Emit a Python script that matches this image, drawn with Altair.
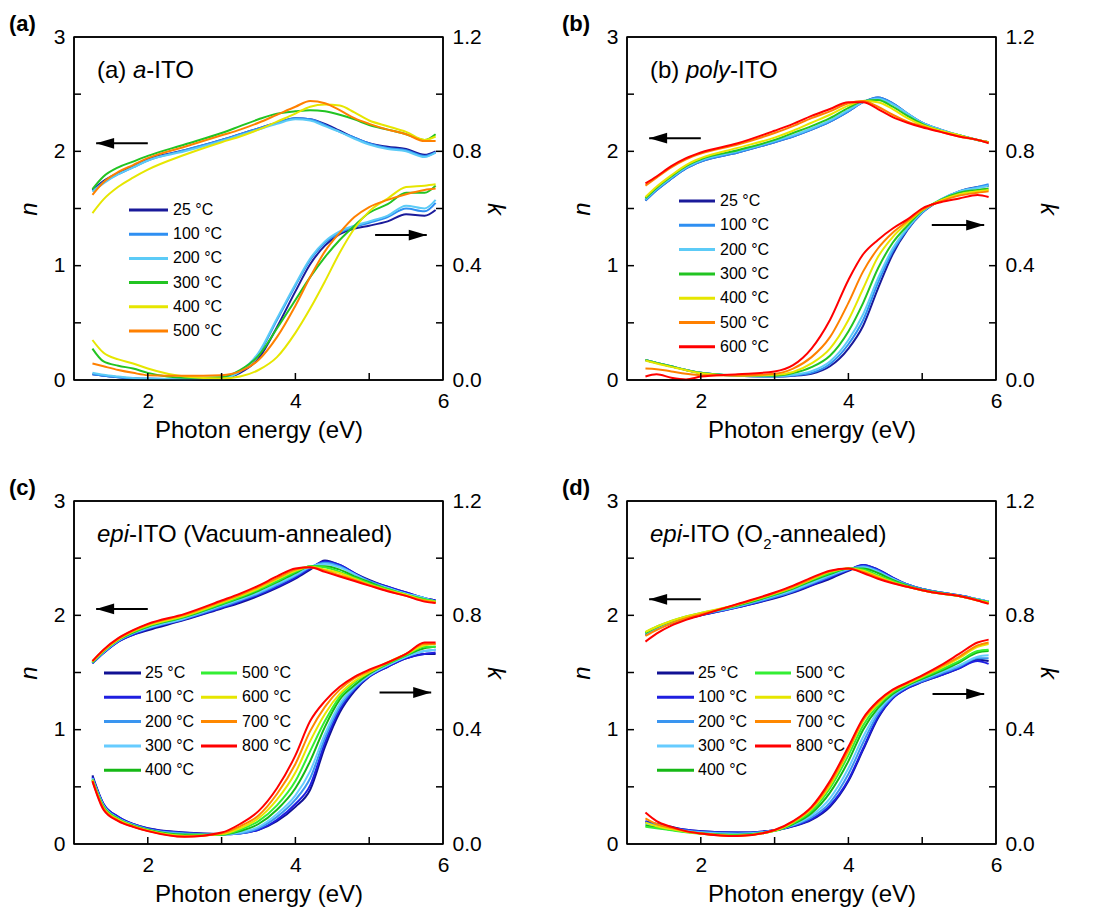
import altair as alt
import pandas as pd

FONT = "Liberation Sans"

# ---------------- data ----------------
E = [1.25, 1.4, 1.6, 1.8, 2.0, 2.5, 3.0, 3.25, 3.5, 3.75, 4.0, 4.2, 4.4, 4.6, 4.8, 5.0, 5.25, 5.5, 5.75, 5.9]

# (a) a-ITO
TEMPS_A = [25, 100, 200, 300, 400, 500]
COLORS_A = ["#1a1a9a", "#2e8ff2", "#5ccbf7", "#22c422", "#e6e600", "#ff8000"]
N_A = {
    25:  [1.66, 1.74, 1.81, 1.87, 1.93, 2.01, 2.10, 2.15, 2.20, 2.25, 2.29, 2.28, 2.24, 2.18, 2.12, 2.07, 2.04, 2.02, 1.97, 2.00],
    100: [1.65, 1.73, 1.80, 1.86, 1.92, 2.01, 2.10, 2.15, 2.20, 2.25, 2.29, 2.28, 2.23, 2.17, 2.12, 2.07, 2.03, 2.01, 1.96, 1.99],
    200: [1.65, 1.72, 1.80, 1.86, 1.92, 2.00, 2.09, 2.14, 2.19, 2.24, 2.28, 2.27, 2.22, 2.17, 2.11, 2.06, 2.02, 2.00, 1.95, 1.99],
    300: [1.67, 1.78, 1.86, 1.91, 1.96, 2.06, 2.16, 2.22, 2.28, 2.33, 2.35, 2.36, 2.35, 2.32, 2.28, 2.23, 2.19, 2.15, 2.10, 2.15],
    400: [1.46, 1.58, 1.69, 1.77, 1.84, 1.97, 2.08, 2.13, 2.19, 2.26, 2.33, 2.39, 2.41, 2.40, 2.34, 2.27, 2.22, 2.17, 2.10, 2.13],
    500: [1.62, 1.73, 1.82, 1.88, 1.94, 2.04, 2.14, 2.19, 2.25, 2.32, 2.39, 2.44, 2.42, 2.36, 2.29, 2.24, 2.19, 2.15, 2.09, 2.09],
}
K_A = {
    25:  [0.020, 0.015, 0.010, 0.006, 0.004, 0.003, 0.005, 0.025, 0.075, 0.185, 0.310, 0.405, 0.470, 0.510, 0.530, 0.540, 0.555, 0.580, 0.575, 0.595],
    100: [0.020, 0.015, 0.010, 0.006, 0.004, 0.003, 0.005, 0.030, 0.090, 0.210, 0.330, 0.420, 0.480, 0.515, 0.535, 0.550, 0.570, 0.600, 0.590, 0.620],
    200: [0.025, 0.018, 0.012, 0.007, 0.005, 0.003, 0.005, 0.030, 0.095, 0.215, 0.335, 0.425, 0.485, 0.520, 0.540, 0.555, 0.575, 0.610, 0.600, 0.630],
    300: [0.110, 0.065, 0.050, 0.040, 0.025, 0.008, 0.010, 0.035, 0.085, 0.180, 0.280, 0.360, 0.430, 0.490, 0.540, 0.585, 0.615, 0.655, 0.655, 0.680],
    400: [0.140, 0.095, 0.072, 0.058, 0.040, 0.012, 0.005, 0.012, 0.035, 0.080, 0.165, 0.250, 0.345, 0.445, 0.530, 0.590, 0.635, 0.675, 0.680, 0.685],
    500: [0.058, 0.048, 0.035, 0.025, 0.017, 0.015, 0.017, 0.030, 0.070, 0.150, 0.260, 0.360, 0.450, 0.515, 0.570, 0.605, 0.630, 0.650, 0.665, 0.670],
}

# (b) poly-ITO
TEMPS_B = [25, 100, 200, 300, 400, 500, 600]
COLORS_B = ["#1a1a9a", "#2e8ff2", "#5ccbf7", "#22c422", "#e6e600", "#ff8000", "#ff0000"]
N_B = {
    25:  [1.57, 1.66, 1.76, 1.85, 1.91, 1.99, 2.08, 2.13, 2.19, 2.26, 2.35, 2.43, 2.47, 2.42, 2.33, 2.25, 2.19, 2.14, 2.10, 2.08],
    100: [1.57, 1.66, 1.76, 1.85, 1.91, 1.99, 2.08, 2.13, 2.19, 2.26, 2.35, 2.43, 2.47, 2.42, 2.33, 2.25, 2.19, 2.14, 2.10, 2.08],
    200: [1.58, 1.67, 1.77, 1.86, 1.92, 2.00, 2.09, 2.14, 2.20, 2.27, 2.36, 2.43, 2.46, 2.41, 2.33, 2.25, 2.19, 2.14, 2.10, 2.08],
    300: [1.59, 1.68, 1.78, 1.87, 1.93, 2.01, 2.10, 2.16, 2.22, 2.29, 2.38, 2.44, 2.45, 2.39, 2.31, 2.24, 2.18, 2.14, 2.10, 2.08],
    400: [1.60, 1.69, 1.79, 1.88, 1.94, 2.03, 2.12, 2.18, 2.25, 2.32, 2.40, 2.44, 2.43, 2.37, 2.29, 2.23, 2.18, 2.14, 2.10, 2.08],
    500: [1.70, 1.77, 1.86, 1.93, 1.98, 2.06, 2.16, 2.22, 2.29, 2.35, 2.42, 2.44, 2.39, 2.32, 2.26, 2.22, 2.17, 2.13, 2.10, 2.08],
    600: [1.72, 1.78, 1.87, 1.94, 1.99, 2.07, 2.18, 2.24, 2.31, 2.37, 2.43, 2.43, 2.37, 2.30, 2.25, 2.21, 2.17, 2.13, 2.10, 2.07],
}
K_B = {
    25:  [0.070, 0.060, 0.048, 0.035, 0.025, 0.015, 0.012, 0.015, 0.022, 0.048, 0.110, 0.190, 0.320, 0.440, 0.525, 0.585, 0.630, 0.660, 0.675, 0.680],
    100: [0.070, 0.060, 0.048, 0.035, 0.025, 0.015, 0.012, 0.016, 0.025, 0.056, 0.125, 0.210, 0.340, 0.450, 0.528, 0.586, 0.630, 0.660, 0.675, 0.685],
    200: [0.070, 0.060, 0.048, 0.035, 0.025, 0.015, 0.013, 0.018, 0.031, 0.065, 0.140, 0.230, 0.355, 0.460, 0.532, 0.588, 0.632, 0.660, 0.672, 0.680],
    300: [0.070, 0.060, 0.048, 0.035, 0.025, 0.016, 0.015, 0.024, 0.045, 0.085, 0.170, 0.270, 0.390, 0.480, 0.540, 0.592, 0.630, 0.655, 0.665, 0.670],
    400: [0.068, 0.058, 0.046, 0.034, 0.024, 0.016, 0.018, 0.028, 0.058, 0.110, 0.210, 0.320, 0.430, 0.500, 0.550, 0.594, 0.628, 0.650, 0.660, 0.665],
    500: [0.040, 0.038, 0.030, 0.022, 0.017, 0.016, 0.022, 0.040, 0.080, 0.150, 0.270, 0.380, 0.460, 0.515, 0.556, 0.596, 0.625, 0.645, 0.655, 0.660],
    600: [0.012, 0.020, 0.008, 0.002, 0.012, 0.020, 0.030, 0.052, 0.110, 0.210, 0.350, 0.440, 0.490, 0.530, 0.562, 0.600, 0.622, 0.635, 0.647, 0.640],
}

# (c) epi-ITO vacuum annealed, (d) epi-ITO O2 annealed
TEMPS_CD = [25, 100, 200, 300, 400, 500, 600, 700, 800]
COLORS_CD = ["#111194", "#1f1fe0", "#3a95f0", "#66ccff", "#16b816", "#33ee33", "#e6e600", "#ff8800", "#ff0000"]
N_C = {
    25:  [1.58, 1.67, 1.77, 1.83, 1.87, 1.96, 2.06, 2.11, 2.17, 2.24, 2.32, 2.40, 2.48, 2.44, 2.37, 2.31, 2.25, 2.20, 2.15, 2.13],
    100: [1.58, 1.67, 1.77, 1.83, 1.88, 1.965, 2.065, 2.12, 2.18, 2.25, 2.33, 2.41, 2.47, 2.44, 2.37, 2.30, 2.25, 2.20, 2.15, 2.13],
    200: [1.585, 1.675, 1.775, 1.84, 1.885, 1.97, 2.075, 2.13, 2.19, 2.265, 2.345, 2.42, 2.46, 2.43, 2.36, 2.30, 2.24, 2.19, 2.15, 2.12],
    300: [1.585, 1.68, 1.78, 1.845, 1.89, 1.975, 2.085, 2.14, 2.20, 2.275, 2.355, 2.425, 2.45, 2.42, 2.36, 2.29, 2.24, 2.19, 2.15, 2.12],
    400: [1.59, 1.685, 1.785, 1.85, 1.90, 1.985, 2.095, 2.15, 2.215, 2.29, 2.37, 2.43, 2.43, 2.40, 2.34, 2.29, 2.23, 2.18, 2.14, 2.12],
    500: [1.59, 1.69, 1.79, 1.855, 1.905, 1.99, 2.10, 2.16, 2.225, 2.30, 2.38, 2.43, 2.42, 2.38, 2.33, 2.28, 2.23, 2.18, 2.14, 2.12],
    600: [1.595, 1.69, 1.79, 1.86, 1.91, 1.995, 2.11, 2.17, 2.235, 2.315, 2.39, 2.425, 2.40, 2.37, 2.32, 2.27, 2.22, 2.18, 2.13, 2.12],
    700: [1.60, 1.695, 1.795, 1.865, 1.92, 2.005, 2.12, 2.18, 2.25, 2.325, 2.40, 2.42, 2.39, 2.35, 2.31, 2.265, 2.215, 2.17, 2.13, 2.11],
    800: [1.60, 1.70, 1.80, 1.87, 1.925, 2.013, 2.13, 2.19, 2.26, 2.34, 2.41, 2.42, 2.38, 2.34, 2.30, 2.26, 2.21, 2.17, 2.12, 2.107],
}
K_C = {
    25:  [0.240, 0.140, 0.095, 0.070, 0.055, 0.040, 0.035, 0.038, 0.050, 0.080, 0.130, 0.190, 0.340, 0.460, 0.535, 0.585, 0.620, 0.650, 0.665, 0.665],
    100: [0.235, 0.140, 0.095, 0.070, 0.054, 0.039, 0.034, 0.037, 0.050, 0.085, 0.140, 0.205, 0.355, 0.470, 0.540, 0.585, 0.620, 0.650, 0.665, 0.670],
    200: [0.230, 0.135, 0.090, 0.068, 0.052, 0.037, 0.033, 0.037, 0.055, 0.095, 0.155, 0.230, 0.370, 0.480, 0.545, 0.590, 0.625, 0.655, 0.675, 0.680],
    300: [0.230, 0.135, 0.090, 0.067, 0.050, 0.035, 0.033, 0.040, 0.060, 0.105, 0.170, 0.255, 0.385, 0.490, 0.550, 0.590, 0.625, 0.655, 0.675, 0.680],
    400: [0.225, 0.130, 0.088, 0.065, 0.050, 0.033, 0.032, 0.045, 0.070, 0.120, 0.195, 0.290, 0.410, 0.505, 0.555, 0.595, 0.630, 0.660, 0.685, 0.690],
    500: [0.225, 0.130, 0.087, 0.064, 0.048, 0.030, 0.033, 0.050, 0.080, 0.135, 0.220, 0.325, 0.430, 0.515, 0.565, 0.600, 0.630, 0.660, 0.690, 0.690],
    600: [0.225, 0.125, 0.085, 0.062, 0.047, 0.028, 0.035, 0.055, 0.090, 0.155, 0.250, 0.360, 0.455, 0.525, 0.570, 0.600, 0.635, 0.665, 0.695, 0.700],
    700: [0.220, 0.125, 0.082, 0.061, 0.046, 0.026, 0.037, 0.062, 0.100, 0.175, 0.280, 0.395, 0.480, 0.540, 0.580, 0.605, 0.635, 0.665, 0.700, 0.700],
    800: [0.220, 0.120, 0.080, 0.060, 0.045, 0.025, 0.040, 0.070, 0.115, 0.195, 0.310, 0.430, 0.500, 0.550, 0.585, 0.610, 0.635, 0.665, 0.705, 0.705],
}
N_D = {
    25:  [1.83, 1.88, 1.93, 1.97, 2.00, 2.07, 2.15, 2.20, 2.26, 2.32, 2.39, 2.44, 2.40, 2.33, 2.27, 2.23, 2.20, 2.175, 2.14, 2.12],
    100: [1.83, 1.88, 1.93, 1.97, 2.00, 2.07, 2.155, 2.205, 2.265, 2.33, 2.395, 2.44, 2.40, 2.33, 2.27, 2.23, 2.20, 2.175, 2.14, 2.12],
    200: [1.83, 1.885, 1.935, 1.975, 2.005, 2.075, 2.16, 2.21, 2.275, 2.34, 2.40, 2.43, 2.39, 2.32, 2.27, 2.23, 2.20, 2.175, 2.14, 2.12],
    300: [1.84, 1.89, 1.94, 1.98, 2.01, 2.08, 2.17, 2.22, 2.285, 2.35, 2.405, 2.42, 2.38, 2.32, 2.26, 2.225, 2.195, 2.17, 2.14, 2.12],
    400: [1.845, 1.895, 1.945, 1.985, 2.015, 2.085, 2.18, 2.235, 2.30, 2.36, 2.41, 2.41, 2.37, 2.31, 2.26, 2.225, 2.195, 2.17, 2.135, 2.115],
    500: [1.85, 1.90, 1.95, 1.99, 2.02, 2.09, 2.185, 2.24, 2.31, 2.37, 2.41, 2.40, 2.35, 2.30, 2.255, 2.22, 2.19, 2.17, 2.135, 2.115],
    600: [1.855, 1.90, 1.95, 1.99, 2.02, 2.095, 2.19, 2.245, 2.315, 2.38, 2.41, 2.39, 2.34, 2.29, 2.25, 2.22, 2.19, 2.17, 2.13, 2.11],
    700: [1.82, 1.87, 1.93, 1.975, 2.01, 2.095, 2.195, 2.25, 2.32, 2.385, 2.41, 2.38, 2.33, 2.285, 2.25, 2.22, 2.19, 2.17, 2.13, 2.105],
    800: [1.77, 1.84, 1.91, 1.96, 2.00, 2.10, 2.20, 2.26, 2.33, 2.39, 2.41, 2.37, 2.32, 2.28, 2.25, 2.22, 2.19, 2.17, 2.13, 2.10],
}
K_D = {
    25:  [0.078, 0.070, 0.060, 0.050, 0.045, 0.040, 0.048, 0.062, 0.084, 0.130, 0.220, 0.330, 0.440, 0.510, 0.545, 0.567, 0.590, 0.615, 0.645, 0.640],
    100: [0.080, 0.070, 0.058, 0.050, 0.045, 0.040, 0.048, 0.063, 0.087, 0.135, 0.225, 0.335, 0.445, 0.510, 0.545, 0.568, 0.590, 0.615, 0.640, 0.630],
    200: [0.075, 0.065, 0.055, 0.047, 0.042, 0.037, 0.047, 0.065, 0.093, 0.145, 0.245, 0.355, 0.455, 0.515, 0.550, 0.570, 0.595, 0.620, 0.650, 0.650],
    300: [0.070, 0.060, 0.052, 0.045, 0.040, 0.035, 0.047, 0.067, 0.100, 0.160, 0.265, 0.375, 0.465, 0.520, 0.552, 0.575, 0.600, 0.625, 0.655, 0.660],
    400: [0.065, 0.058, 0.050, 0.043, 0.038, 0.032, 0.046, 0.070, 0.108, 0.180, 0.290, 0.400, 0.475, 0.525, 0.555, 0.578, 0.605, 0.635, 0.670, 0.675],
    500: [0.060, 0.055, 0.048, 0.041, 0.036, 0.030, 0.046, 0.073, 0.115, 0.195, 0.310, 0.415, 0.485, 0.530, 0.558, 0.582, 0.610, 0.640, 0.675, 0.680],
    600: [0.075, 0.062, 0.052, 0.043, 0.037, 0.029, 0.047, 0.076, 0.122, 0.205, 0.325, 0.430, 0.490, 0.535, 0.560, 0.585, 0.615, 0.650, 0.690, 0.700],
    700: [0.090, 0.070, 0.056, 0.044, 0.037, 0.028, 0.048, 0.078, 0.126, 0.212, 0.330, 0.435, 0.495, 0.537, 0.563, 0.587, 0.620, 0.655, 0.695, 0.705],
    800: [0.110, 0.080, 0.060, 0.045, 0.037, 0.028, 0.049, 0.080, 0.130, 0.220, 0.340, 0.440, 0.500, 0.540, 0.565, 0.590, 0.625, 0.665, 0.705, 0.715],
}

# arrows: (tip energy, tail energy, value)
ARROW_N = {"a": (1.3, 2.0, 2.07), "b": (1.3, 2.0, 2.115), "c": (1.3, 2.0, 2.056), "d": (1.3, 2.0, 2.14)}
ARROW_K = {"a": (5.78, 5.08, 0.507), "b": (5.84, 5.13, 0.542), "c": (5.84, 5.14, 0.53), "d": (5.84, 5.14, 0.525)}

# ---------------- layout ----------------
W, H = 369, 343
XMIN, XMAX, NMAX, KMAX = 1.0, 6.0, 3.0, 1.2
TICK = 7

CW = {' ': 278, '(': 333, ')': 333, '-': 333, 'a': 556, 'b': 556, 'c': 500, 'd': 556, 'e': 556,
      'i': 222, 'l': 222, 'm': 833, 'n': 556, 'o': 556, 'p': 556, 'u': 556, 'y': 500,
      'I': 278, 'T': 611, 'O': 778, 'V': 667, '2': 556}


def tw(s, size):
    return sum(CW.get(c, 556) for c in s) / 1000.0 * size


def px_e(px):
    return XMIN + px / W * (XMAX - XMIN)


def py_n(py):
    return NMAX * (1 - py / H)


LEFT_HEAD = "M 0 0 L 2 -0.6 L 2 0.6 Z"
RIGHT_HEAD = "M 0 0 L -2 -0.6 L -2 0.6 Z"

xs = alt.Scale(domain=[XMIN, XMAX], nice=False, zero=False)
ns = alt.Scale(domain=[0, NMAX], nice=False, zero=False)
ks = alt.Scale(domain=[0, KMAX], nice=False, zero=False)

common_axis = dict(ticks=False, domain=False, grid=False, labelFont=FONT, labelFontSize=21,
                   labelColor="black", labelFlush=False, titleFont=FONT, titleFontSize=24,
                   titleColor="black", titleFontWeight="normal")

XAXIS = alt.Axis(values=[2, 4, 6], format="d", labelPadding=10, title="Photon energy (eV)",
                 titlePadding=7, **common_axis)


def X(field):
    return alt.X(field, scale=xs, axis=XAXIS)


def long_df(temps, D):
    rows = []
    for t in temps:
        for e, v in zip(E, D[t]):
            rows.append({"E": e, "v": v, "T": f"{t} °C"})
    return pd.DataFrame(rows)


def frame_side(x1, x2, y1, y2):
    return alt.Chart(pd.DataFrame({"f": [0]})).mark_rule(strokeWidth=1.5, color="black").encode(
        x=alt.value(x1), x2=alt.value(x2), y=alt.value(y1), y2=alt.value(y2))


def panel(letter, pieces, temps, colors, N, K, legend_cols, legend_y0, legend_step):
    labels = [f"{t} °C" for t in temps]
    col = alt.Color("T:N", scale=alt.Scale(domain=labels, range=colors), legend=None)
    naxis = alt.Axis(orient="left", values=[0, 1, 2, 3], format="d", labelPadding=9, title="n",
                     titleFontStyle="italic", titlePadding=12, **common_axis)
    kaxis = alt.Axis(orient="right", values=[0, 0.4, 0.8, 1.2], format=".1f", labelPadding=9,
                     title="k", titleFontStyle="italic", titlePadding=1, **common_axis)

    nl = alt.Chart(long_df(temps, N)).mark_line(strokeWidth=2, interpolate="monotone").encode(
        x=X("E:Q"), y=alt.Y("v:Q", scale=ns, axis=naxis), color=col)
    kl = alt.Chart(long_df(temps, K)).mark_line(strokeWidth=2, interpolate="monotone").encode(
        x=X("E:Q"), y=alt.Y("v:Q", scale=ks, axis=kaxis), color=col)

    # plot frame (four sides)
    frames = [frame_side(0, W, 0, 0), frame_side(0, W, H, H),
              frame_side(0, 0, 0, H), frame_side(W, W, 0, H)]

    # inward ticks
    bt = alt.Chart(pd.DataFrame({"t": [2, 3, 4, 5]})).mark_rule(strokeWidth=1.5, color="black").encode(
        x=X("t:Q"), y=alt.value(H), y2=alt.value(H - TICK))
    lt = alt.Chart(pd.DataFrame({"t": [0.5, 1, 1.5, 2, 2.5]})).mark_rule(strokeWidth=1.5, color="black").encode(
        y=alt.Y("t:Q", scale=ns, axis=None), x=alt.value(0), x2=alt.value(TICK))
    rt = alt.Chart(pd.DataFrame({"t": [0.2, 0.4, 0.6, 0.8, 1.0]})).mark_rule(strokeWidth=1.5, color="black").encode(
        y=alt.Y("t:Q", scale=ks, axis=None), x=alt.value(W - TICK), x2=alt.value(W))

    # arrows
    tip, tail, val = ARROW_N[letter]
    an = pd.DataFrame({"e1": [tip], "e2": [tail], "v": [val]})
    ar1 = alt.Chart(an).mark_rule(strokeWidth=2, color="black").encode(
        x=X("e1:Q"), x2="e2:Q", y=alt.Y("v:Q", scale=ns, axis=None))
    ah1 = alt.Chart(an).mark_point(shape=LEFT_HEAD, size=324, filled=True, color="black", opacity=1,
                                   strokeWidth=0).encode(
        x=X("e1:Q"), y=alt.Y("v:Q", scale=ns, axis=None))
    tip, tail, val = ARROW_K[letter]
    ak = pd.DataFrame({"e1": [tip], "e2": [tail], "v": [val]})
    ar2 = alt.Chart(ak).mark_rule(strokeWidth=2, color="black").encode(
        x=X("e2:Q"), x2="e1:Q", y=alt.Y("v:Q", scale=ks, axis=None))
    ah2 = alt.Chart(ak).mark_point(shape=RIGHT_HEAD, size=324, filled=True, color="black", opacity=1,
                                   strokeWidth=0).encode(
        x=X("e1:Q"), y=alt.Y("v:Q", scale=ks, axis=None))

    # manual legend
    rows = []
    for (sx1, sx2, tx, items) in legend_cols:
        for i, t in enumerate(items):
            py = legend_y0 + i * legend_step
            rows.append({"x1": px_e(sx1), "x2": px_e(sx2), "tx": px_e(tx), "y": py_n(py), "T": f"{t} °C"})
    ldf = pd.DataFrame(rows)
    lr = alt.Chart(ldf).mark_rule(strokeWidth=3).encode(
        x=X("x1:Q"), x2="x2:Q", y=alt.Y("y:Q", scale=ns, axis=None), color=col)
    ltx = alt.Chart(ldf).mark_text(align="left", baseline="middle", font=FONT, fontSize=16, color="black").encode(
        x=X("tx:Q"), y=alt.Y("y:Q", scale=ns, axis=None), text="T:N")

    layers = [nl, kl] + frames + [lt, rt, bt, ar1, ah1, ar2, ah2, lr, ltx]

    # inner title (mixed styles)
    x0, ybase = 23, 41
    for text, style in pieces:
        size = 24
        dy = 0
        fstyle = "italic" if style == "italic" else "normal"
        if style == "sub":
            size = 15
            dy = 7
        t = alt.Chart(pd.DataFrame({"s": [text]})).mark_text(
            align="left", baseline="alphabetic", font=FONT, fontSize=size, fontStyle=fstyle,
            color="black").encode(text="s:N", x=alt.value(x0), y=alt.value(ybase + dy))
        layers.append(t)
        x0 += tw(text, size)

    lab = alt.Chart(pd.DataFrame({"s": [f"({letter})"]})).mark_text(
        align="left", baseline="alphabetic", font=FONT, fontSize=22, fontWeight="bold",
        color="black").encode(text="s:N", x=alt.value(-65), y=alt.value(-6))
    layers.append(lab)

    return alt.layer(*layers).properties(width=W, height=H).resolve_scale(y="independent")


pa = panel("a", [("(a) ", "normal"), ("a", "italic"), ("-ITO", "normal")], TEMPS_A, COLORS_A, N_A, K_A,
           [(55, 94, 99, TEMPS_A)], 173, 24.2)
pb = panel("b", [("(b) ", "normal"), ("poly", "italic"), ("-ITO", "normal")], TEMPS_B, COLORS_B, N_B, K_B,
           [(52, 88, 93, TEMPS_B)], 164, 24.3)
pc = panel("c", [("epi", "italic"), ("-ITO (Vacuum-annealed)", "normal")], TEMPS_CD, COLORS_CD, N_C, K_C,
           [(30, 67, 71, TEMPS_CD[:5]), (127, 163, 168, TEMPS_CD[5:])], 172, 24.3)
pd_ = panel("d", [("epi", "italic"), ("-ITO (O", "normal"), ("2", "sub"), ("-annealed)", "normal")],
            TEMPS_CD, COLORS_CD, N_D, K_D,
            [(30, 67, 71, TEMPS_CD[:5]), (128, 164, 169, TEMPS_CD[5:])], 172, 24.3)

row1 = alt.hconcat(pa, pb, spacing=54).resolve_scale(color="independent")
row2 = alt.hconcat(pc, pd_, spacing=54).resolve_scale(color="independent")

chart = alt.vconcat(row1, row2, spacing=33).resolve_scale(color="independent").properties(
    padding={"left": 0, "top": 4, "right": 5, "bottom": 5}
).configure_view(stroke="black", strokeWidth=1.5)

chart.save("out.html", embed_options={"renderer": "svg", "actions": False})
